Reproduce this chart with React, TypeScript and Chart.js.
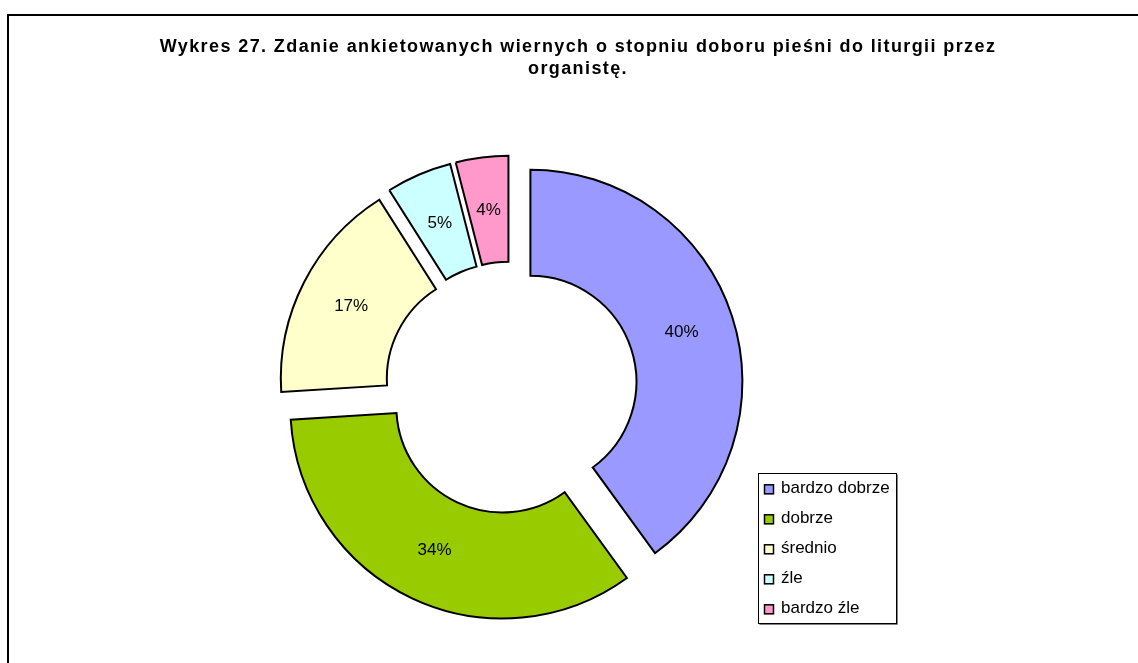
import React, { useEffect, useRef } from 'react';
import { Chart, registerables } from 'chart.js';

Chart.register(...registerables);

// ---- data ----
const categories = ['bardzo dobrze', 'dobrze', 'średnio', 'źle', 'bardzo źle'];
const shares = [40, 34, 17, 5, 4];
const sliceColors = ['#9999FF', '#99CC00', '#FFFFCC', '#CCFFFF', '#FF99CC'];
const titleLines = [
  'Wykres 27. Zdanie ankietowanych wiernych o stopniu doboru pieśni do liturgii przez',
  'organistę.',
];

// ---- style constants ----
const CANVAS_W = 1144;
const CANVAS_H = 660;
const EXPLODE = 20.4;
const FONT = '"Liberation Sans", Arial, sans-serif';

const explodePlugin = {
  id: 'explode',
  afterDatasetsUpdate(chart: any) {
    const meta = chart.getDatasetMeta(0);
    meta.data.forEach((arc: any) => {
      const half = (arc.startAngle + arc.endAngle) / 2;
      arc.x += Math.cos(half) * EXPLODE;
      arc.y += Math.sin(half) * EXPLODE;
    });
  },
};

const framePlugin = {
  id: 'frameTitle',
  beforeDraw(chart: any) {
    const ctx = chart.ctx;
    ctx.save();
    ctx.fillStyle = '#ffffff';
    ctx.fillRect(0, 0, chart.width, chart.height);
    ctx.lineWidth = 2;
    ctx.strokeStyle = '#000000';
    ctx.strokeRect(1, 1, chart.width - 2, chart.height - 2);
    ctx.fillStyle = '#000000';
    ctx.font = `bold 18px ${FONT}`;
    (ctx as any).letterSpacing = '1.4px';
    ctx.textAlign = 'center';
    ctx.textBaseline = 'middle';
    titleLines.forEach((line, i) => {
      ctx.fillText(line, 571, 33.5 + i * 22);
    });
    ctx.restore();
  },
};

const labelPlugin = {
  id: 'sliceLabels',
  afterDatasetsDraw(chart: any) {
    const ctx = chart.ctx;
    const meta = chart.getDatasetMeta(0);
    const values = chart.data.datasets[0].data as number[];
    ctx.save();
    ctx.fillStyle = '#000000';
    ctx.font = `17px ${FONT}`;
    ctx.textAlign = 'center';
    ctx.textBaseline = 'middle';
    meta.data.forEach((arc: any, i: number) => {
      const half = (arc.startAngle + arc.endAngle) / 2;
      const mid = (arc.innerRadius + arc.outerRadius) / 2;
      const x = arc.x + Math.cos(half) * mid;
      const y = arc.y + Math.sin(half) * mid;
      ctx.fillText(`${values[i]}%`, x, y);
    });
    ctx.restore();
  },
};

const legendPlugin = {
  id: 'boxLegend',
  afterDraw(chart: any) {
    const ctx = chart.ctx;
    const labels = chart.data.labels as string[];
    const colors = chart.data.datasets[0].backgroundColor as string[];
    const left = 751.5;
    const top = 459.5;
    const w = 138;
    const h = 150;
    ctx.save();
    // shadow
    ctx.fillStyle = '#808080';
    ctx.fillRect(left + 1, top + h, w, 1.5);
    ctx.fillRect(left + w, top + 1, 1.5, h);
    ctx.fillStyle = '#ffffff';
    ctx.fillRect(left, top, w, h);
    ctx.lineWidth = 1;
    ctx.strokeStyle = '#000000';
    ctx.strokeRect(left, top, w, h);
    ctx.font = `17px ${FONT}`;
    ctx.textAlign = 'left';
    ctx.textBaseline = 'middle';
    labels.forEach((lab, i) => {
      const cy = 475.3 + i * 30;
      ctx.fillStyle = colors[i];
      ctx.fillRect(757, cy - 5, 10, 10);
      ctx.strokeStyle = '#000000';
      ctx.lineWidth = 1.5;
      ctx.strokeRect(757.5, cy - 4.5, 9, 9);
      ctx.fillStyle = '#000000';
      ctx.fillText(lab, 774, cy - 0.5);
    });
    ctx.restore();
  },
};

export default function App() {
  const canvasRef = useRef<HTMLCanvasElement | null>(null);

  useEffect(() => {
    if (!canvasRef.current) return;
    const chart = new Chart(canvasRef.current, {
      type: 'doughnut',
      data: {
        labels: categories,
        datasets: [
          {
            data: shares,
            backgroundColor: sliceColors,
            borderColor: '#000000',
            borderWidth: 2,
            borderJoinStyle: 'miter',
          } as any,
        ],
      },
      options: {
        responsive: false,
        animation: false,
        events: [],
        cutout: '50%',
        radius: 212,
        layout: { padding: { left: 0, right: 136, top: 88, bottom: 0 } },
        plugins: {
          legend: { display: false },
          title: { display: false },
          tooltip: { enabled: false },
        },
      } as any,
      plugins: [framePlugin, explodePlugin, labelPlugin, legendPlugin],
    });
    return () => chart.destroy();
  }, []);

  return (
    <div
      style={{
        position: 'fixed',
        left: 0,
        top: 0,
        width: 1138,
        height: 663,
        overflow: 'hidden',
        background: '#ffffff',
      }}
    >
      <canvas
        ref={canvasRef}
        width={CANVAS_W}
        height={CANVAS_H}
        style={{ position: 'absolute', left: 7, top: 14, width: CANVAS_W, height: CANVAS_H }}
      />
    </div>
  );
}
